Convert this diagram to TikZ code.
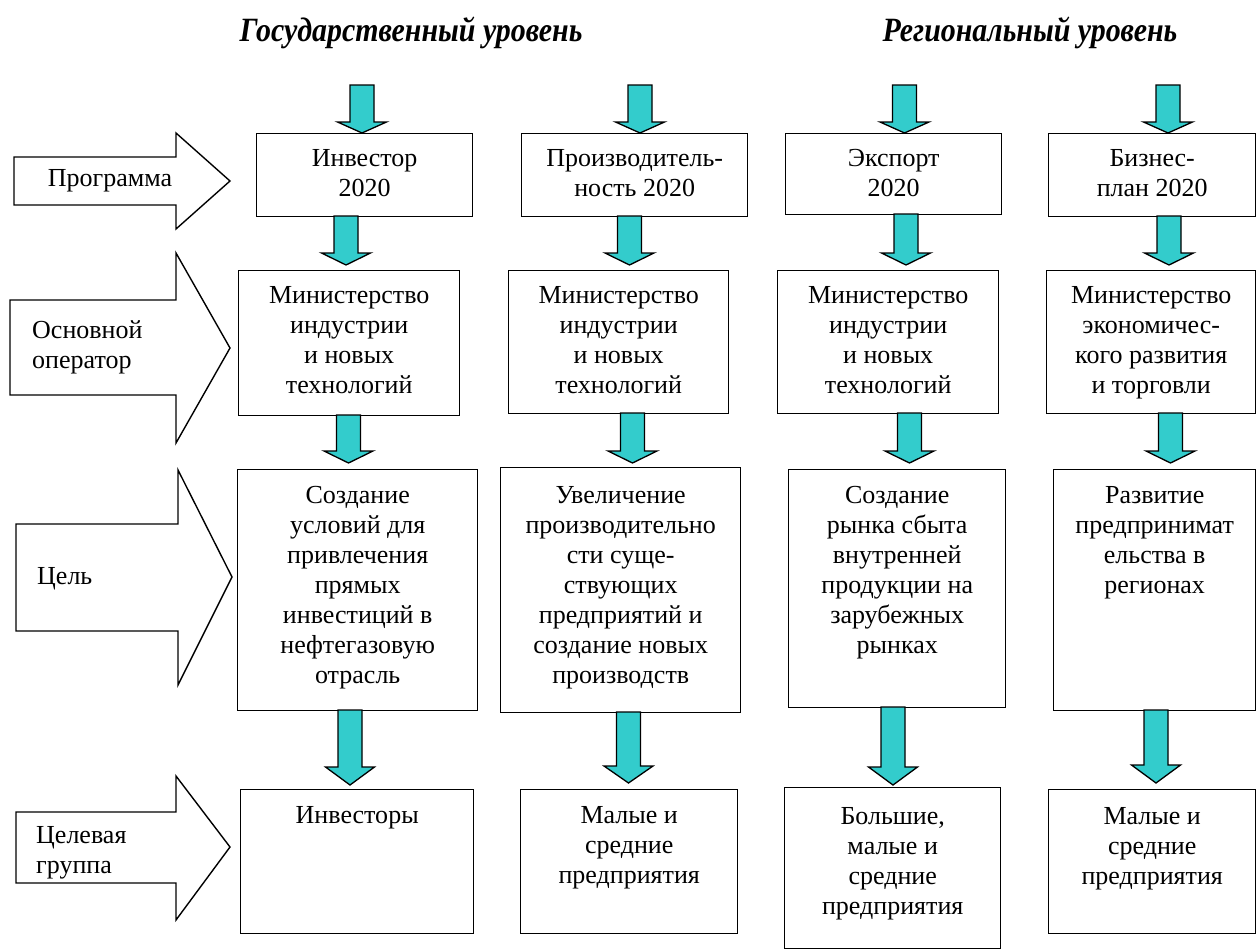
\documentclass[tikz,border=0pt]{standalone}
\usepackage{fontspec}
\setmainfont{Liberation Serif}
\definecolor{cyanfill}{RGB}{51,204,204}
\newcommand\cyarr[4]{% cx top headstart tip
  \draw[cyarrow] (#1-12,#2) -- (#1+12,#2) -- (#1+12,#3) -- (#1+24.5,#3) -- (#1,#4)
    -- (#1-24.5,#3) -- (#1-12,#3) -- cycle;}
\newcommand\blockarr[8]{% bodyleft bodytop bodybottom headx headtop headbottom tipx tipy
  \draw[leftarrow] (#1,#2) -- (#4,#2) -- (#4,#5) -- (#7,#8) -- (#4,#6) -- (#4,#3) -- (#1,#3) -- cycle;}
\begin{document}
\begin{tikzpicture}[x=1pt,y=-1pt,
  boxst/.style={draw=black, line width=1.4pt, fill=white, inner sep=0pt, anchor=north west},
  txt/.style={inner sep=0pt, align=center, anchor=north, font=\fontsize{26}{30}\selectfont},
  ltxt/.style={inner sep=0pt, align=left, anchor=north west, font=\fontsize{26}{30}\selectfont},
  ttl/.style={inner sep=0pt, font=\fontsize{34}{38}\selectfont\bfseries\itshape},
  cyarrow/.style={draw=black, line width=1.3pt, fill=cyanfill, line join=miter},
  leftarrow/.style={draw=black, line width=1.4pt, fill=white, line join=miter}]
\useasboundingbox (0,0) rectangle (1257,950);
\fill[white] (0,0) rectangle (1257,950);

% titles
\node[ttl] (title1) at (411,33) {\scalebox{0.88}[1]{Государственный уровень}};
\node[ttl] (title2) at (1030,33) {\scalebox{0.88}[1]{Региональный уровень}};

% left block arrows
\blockarr{14}{157}{205}{176}{133}{229}{230}{181}
\blockarr{10}{300}{395}{176}{253}{443}{230}{348}
\blockarr{16}{524}{631}{178}{470}{685}{232}{577}
\blockarr{16}{812}{883}{176}{776}{920}{230}{847}
\node[txt] (lab1) at (110,180-16) {\rule{0pt}{22pt}Программа};
\node[ltxt] (lab2) at (32,332-16) {\rule{0pt}{22pt}Основной\\оператор};
\node[ltxt] (lab3) at (37,578-16) {\rule{0pt}{22pt}Цель};
\node[ltxt] (lab4) at (36,837-16) {\rule{0pt}{22pt}Целевая\\группа};

% boxes
\node[boxst, minimum width=216pt, minimum height=83pt] (b11) at (256,133) {};
\node[boxst, minimum width=226pt, minimum height=83pt] (b12) at (521,133) {};
\node[boxst, minimum width=216pt, minimum height=81pt] (b13) at (785,133) {};
\node[boxst, minimum width=207pt, minimum height=83pt] (b14) at (1048,133) {};

\node[boxst, minimum width=221pt, minimum height=145pt] (b21) at (238,270) {};
\node[boxst, minimum width=220pt, minimum height=143pt] (b22) at (508,270) {};
\node[boxst, minimum width=221pt, minimum height=143pt] (b23) at (777,270) {};
\node[boxst, minimum width=209pt, minimum height=143pt] (b24) at (1046,270) {};

\node[boxst, minimum width=240pt, minimum height=241pt] (b31) at (237,469) {};
\node[boxst, minimum width=240pt, minimum height=245pt] (b32) at (500,467) {};
\node[boxst, minimum width=217pt, minimum height=238pt] (b33) at (788,469) {};
\node[boxst, minimum width=202pt, minimum height=241pt] (b34) at (1053,469) {};

\node[boxst, minimum width=233pt, minimum height=144pt] (b41) at (240,789) {};
\node[boxst, minimum width=217pt, minimum height=144pt] (b42) at (520,789) {};
\node[boxst, minimum width=216pt, minimum height=161pt] (b43) at (784,787) {};
\node[boxst, minimum width=207pt, minimum height=144pt] (b44) at (1048,789) {};

% box texts
\node[txt] (t11) at (b11.north |- 0,160-16) {\rule{0pt}{22pt}Инвестор\\2020};
\node[txt] (t12) at (b12.north |- 0,160-16) {\rule{0pt}{22pt}Производитель-\\ность 2020};
\node[txt] (t13) at (b13.north |- 0,160-16) {\rule{0pt}{22pt}Экспорт\\2020};
\node[txt] (t14) at (b14.north |- 0,160-16) {\rule{0pt}{22pt}Бизнес-\\план 2020};

\node[txt] (t21) at (b21.north |- 0,297-16) {\rule{0pt}{22pt}Министерство\\индустрии\\и новых\\технологий};
\node[txt] (t22) at (b22.north |- 0,297-16) {\rule{0pt}{22pt}Министерство\\индустрии\\и новых\\технологий};
\node[txt] (t23) at (b23.north |- 0,297-16) {\rule{0pt}{22pt}Министерство\\индустрии\\и новых\\технологий};
\node[txt] (t24) at (b24.north |- 0,297-16) {\rule{0pt}{22pt}Министерство\\экономичес-\\кого развития\\и торговли};

\node[txt] (t31) at (b31.north |- 0,497-16) {\rule{0pt}{22pt}Создание\\условий для\\привлечения\\прямых\\инвестиций в\\нефтегазовую\\отрасль};
\node[txt] (t32) at (b32.north |- 0,497-16) {\rule{0pt}{22pt}Увеличение\\производительно\\сти суще-\\ствующих\\предприятий и\\создание новых\\производств};
\node[txt] (t33) at (b33.north |- 0,497-16) {\rule{0pt}{22pt}Создание\\рынка сбыта\\внутренней\\продукции на\\зарубежных\\рынках};
\node[txt] (t34) at (b34.north |- 0,497-16) {\rule{0pt}{22pt}Развитие\\предпринимат\\ельства в\\регионах};

\node[txt] (t41) at (b41.north |- 0,817-16) {\rule{0pt}{22pt}Инвесторы};
\node[txt] (t42) at (b42.north |- 0,817-16) {\rule{0pt}{22pt}Малые и\\средние\\предприятия};
\node[txt] (t43) at (b43.north |- 0,818-16) {\rule{0pt}{22pt}Большие,\\малые и\\средние\\предприятия};
\node[txt] (t44) at (b44.north |- 0,818-16) {\rule{0pt}{22pt}Малые и\\средние\\предприятия};

% cyan block arrows
\cyarr{362}{85}{122}{133}
\cyarr{640}{85}{122}{133}
\cyarr{904.5}{85}{122}{133}
\cyarr{1168}{85}{122}{133}

\cyarr{346}{216}{253}{265}
\cyarr{629.5}{216}{253}{265}
\cyarr{906}{214}{253}{265}
\cyarr{1169}{216}{253}{265}

\cyarr{348.5}{415}{451}{463}
\cyarr{632.5}{413}{451}{463}
\cyarr{909.5}{413}{451}{463}
\cyarr{1170.5}{413}{451}{463}

\cyarr{350}{710}{767}{785}
\cyarr{628.5}{712}{766}{783}
\cyarr{893}{707}{767}{785}
\cyarr{1156}{710}{765}{783}
\end{tikzpicture}
\end{document}
